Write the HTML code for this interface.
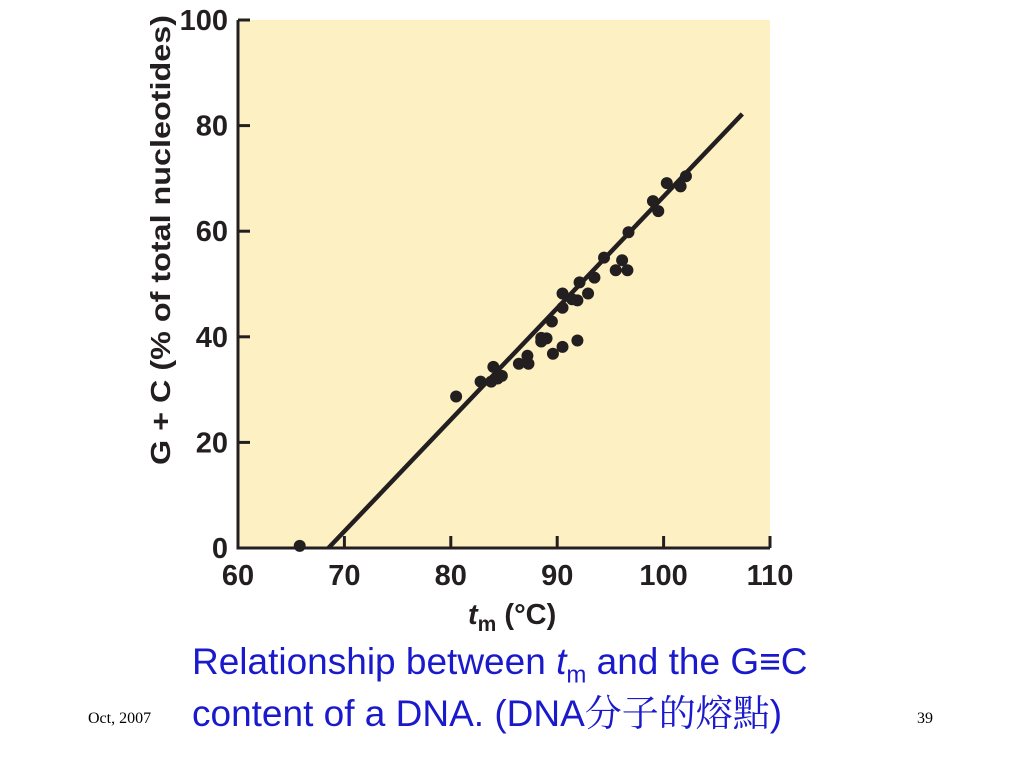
<!DOCTYPE html>
<html><head><meta charset="utf-8"><style>
body{margin:0;width:1024px;height:768px;background:#fff;overflow:hidden;position:relative;font-family:"Liberation Sans",sans-serif}
.cap{position:absolute;left:192px;color:#1a1acc;font-size:37px;white-space:nowrap;line-height:44px}
</style></head><body>
<svg width="1024" height="768" style="position:absolute;left:0;top:0" id="svg"></svg>
<div class="cap" style="top:640px">Relationship between <i>t</i><sub style="font-size:24px">m</sub> and the G≡C</div>
<div class="cap" style="top:692px;font-family:'Liberation Sans','Noto Serif CJK SC',sans-serif">content of a DNA. (DNA分子的熔點)</div>
<div style="position:absolute;left:88px;top:710px;font-family:'Liberation Serif',serif;font-size:16px">Oct, 2007</div>
<div style="position:absolute;left:917px;top:710px;font-family:'Liberation Serif',serif;font-size:16px">39</div>
<script>
const tmValues=[65.8,80.5,82.8,84.0,83.8,84.4,84.8,86.4,87.2,87.3,88.5,89.0,88.5,89.6,89.5,90.5,91.9,90.5,90.5,91.4,91.9,92.1,92.9,93.5,94.4,95.5,96.1,96.6,96.7,99.0,99.5,100.3,101.6,102.1];
const gcValues=[0.4,28.7,31.5,34.3,31.5,32.1,32.6,34.9,36.4,34.9,39.1,39.7,39.8,36.8,42.9,38.1,39.3,48.2,45.5,47.1,46.9,50.3,48.2,51.2,55.0,52.6,54.5,52.6,59.8,65.7,63.8,69.1,68.5,70.4];
const fitLine=[[68.5,0],[107.4,82.2]];
const xTicks=[60,70,80,90,100,110];
const yTicks=[0,20,40,60,80,100];
const X0=238,X1=770,Y0=548,Y1=20;
const xs=v=>X0+(v-60)/50*(X1-X0);
const ys=v=>Y0-(v/100)*(Y0-Y1);
const svg=document.getElementById('svg');const NS='http://www.w3.org/2000/svg';
function mk(t,a,txt){const e=document.createElementNS(NS,t);for(const k in a)e.setAttribute(k,a[k]);if(txt!=null)e.textContent=txt;svg.appendChild(e);return e;}
let bg=mk('rect',{x:X0,y:Y1,width:X1-X0,height:Y0-Y1,fill:'#fdf1c3'});


let ax=mk('path',{d:`M${X0},${Y1} L${X0},${Y0} L${X1},${Y0}`,stroke:'#231f20','stroke-width':3,fill:'none'});


xTicks.forEach(t=>{
 let l=mk('line',{x1:xs(t),x2:xs(t),y1:Y0,y2:Y0-12,stroke:'#231f20','stroke-width':3});
 
 
 let tx=mk('text',{x:xs(t),y:Y0+37,'text-anchor':'middle','font-size':29,'font-weight':'bold',fill:'#231f20'},t);
 
 
});
yTicks.forEach(t=>{
 let l=mk('line',{x1:X0,x2:X0+12,y1:ys(t),y2:ys(t),stroke:'#231f20','stroke-width':3});
 
 
 let tx=mk('text',{x:X0-10,y:ys(t)+10,'text-anchor':'end','font-size':29,'font-weight':'bold',fill:'#231f20'},t);
 
 
});
let fl=mk('line',{x1:xs(fitLine[0][0]),y1:ys(fitLine[0][1]),x2:xs(fitLine[1][0]),y2:ys(fitLine[1][1]),stroke:'#231f20','stroke-width':4.5});


tmValues.forEach((v,i)=>{
 let c=mk('circle',{cx:xs(v),cy:ys(gcValues[i]),r:6,fill:'#231f20'});
 
 
});
let yt=mk('text',{transform:'translate(170,240) rotate(-90)','text-anchor':'middle','font-size':28,'font-weight':'bold',fill:'#231f20',textLength:450,lengthAdjust:'spacingAndGlyphs'},'G + C (% of total nucleotides)');


let xt=mk('text',{x:468,y:624,'font-size':29,'font-weight':'bold',fill:'#231f20'});


xt.innerHTML='<tspan font-style="italic">t</tspan><tspan font-size="21" dy="7">m</tspan><tspan dy="-7"> (°C)</tspan>';
</script>
</body></html>
